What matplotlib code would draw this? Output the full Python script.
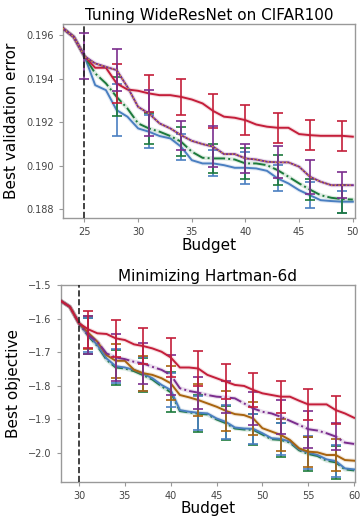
import matplotlib.pyplot as plt

# ---- top panel: WideResNet on CIFAR100 ----
top_x = list(range(23, 51))
top_red = [0.19631, 0.19592, 0.19503, 0.19450, 0.19450, 0.19378, 0.19350, 0.19344, 0.19332, 0.19324,
           0.19324, 0.19316, 0.19304, 0.19286, 0.19251, 0.19225, 0.19220, 0.19209, 0.19189, 0.19179,
           0.19174, 0.19174, 0.19145, 0.19140, 0.19137, 0.19137, 0.19137, 0.19133]
top_purple = [0.19631, 0.19592, 0.19503, 0.19470, 0.19454, 0.19439, 0.19362, 0.19270, 0.19240, 0.19194,
              0.19171, 0.19140, 0.19114, 0.19099, 0.19087, 0.19053, 0.19053, 0.19033, 0.19028, 0.19018,
              0.19015, 0.19015, 0.18995, 0.18949, 0.18926, 0.18910, 0.18910, 0.18910]
top_green = [0.19631, 0.19592, 0.19503, 0.19424, 0.19378, 0.19316, 0.19263, 0.19194, 0.19171, 0.19156,
             0.19136, 0.19110, 0.19064, 0.19036, 0.19033, 0.19033, 0.19028, 0.19010, 0.19010, 0.19002,
             0.18979, 0.18949, 0.18918, 0.18890, 0.18864, 0.18852, 0.18846, 0.18844]
top_blue = [0.19631, 0.19592, 0.19503, 0.19370, 0.19347, 0.19255, 0.19225, 0.19171, 0.19156, 0.19136,
            0.19125, 0.19087, 0.19025, 0.19010, 0.19010, 0.19002, 0.18990, 0.18990, 0.18987, 0.18976,
            0.18941, 0.18918, 0.18887, 0.18864, 0.18841, 0.18837, 0.18834, 0.18834]
top_err_x = [28, 31, 34, 37, 40, 43, 46, 49]
top_red_err = [0.0009, 0.00085, 0.00082, 0.0008, 0.0007, 0.0007, 0.0007, 0.0007]
top_purple_err = [0.00096, 0.00106, 0.00067, 0.00095, 0.00065, 0.00074, 0.00079, 0.0006]
top_green_err = [0.0009, 0.0007, 0.00068, 0.00067, 0.0007, 0.0007, 0.0005, 0.00064]
top_blue_err = [0.0012, 0.00075, 0.0006, 0.0006, 0.00073, 0.0006, 0.0006, 0.0005]
top_start_err = 0.00105

# ---- bottom panel: Hartman-6d ----
bot_x = list(range(28, 61))
bot_red = [-1.547, -1.565, -1.614, -1.632, -1.644, -1.646, -1.659, -1.664, -1.677, -1.682, -1.689,
           -1.699, -1.716, -1.746, -1.746, -1.749, -1.768, -1.778, -1.788, -1.798, -1.801, -1.813,
           -1.823, -1.828, -1.833, -1.833, -1.845, -1.856, -1.856, -1.856, -1.873, -1.883, -1.896]
bot_purple = [-1.547, -1.565, -1.614, -1.649, -1.669, -1.704, -1.716, -1.721, -1.729, -1.734, -1.744,
              -1.753, -1.768, -1.808, -1.816, -1.821, -1.828, -1.833, -1.835, -1.838, -1.853, -1.868,
              -1.878, -1.883, -1.893, -1.905, -1.917, -1.930, -1.934, -1.942, -1.952, -1.970, -1.974]
bot_brown = [-1.547, -1.565, -1.614, -1.642, -1.669, -1.709, -1.726, -1.726, -1.753, -1.763, -1.768,
             -1.778, -1.793, -1.828, -1.835, -1.843, -1.853, -1.863, -1.875, -1.885, -1.888, -1.898,
             -1.927, -1.937, -1.947, -1.962, -1.987, -1.997, -1.999, -2.007, -2.007, -2.022, -2.024]
bot_green = [-1.547, -1.565, -1.614, -1.652, -1.682, -1.723, -1.746, -1.749, -1.757, -1.769, -1.782,
             -1.802, -1.820, -1.876, -1.880, -1.884, -1.886, -1.901, -1.912, -1.928, -1.931, -1.932,
             -1.946, -1.960, -1.962, -1.970, -1.993, -2.004, -2.010, -2.024, -2.029, -2.050, -2.053]
bot_blue = [-1.547, -1.565, -1.614, -1.649, -1.679, -1.719, -1.742, -1.746, -1.753, -1.765, -1.778,
            -1.798, -1.813, -1.873, -1.878, -1.881, -1.883, -1.898, -1.908, -1.925, -1.928, -1.929,
            -1.942, -1.957, -1.959, -1.967, -1.990, -2.000, -2.007, -2.020, -2.025, -2.047, -2.050]
bot_err_x = [31, 34, 37, 40, 43, 46, 49, 52, 55, 58]
bot_red_err = [0.055, 0.055, 0.053, 0.057, 0.052, 0.052, 0.05, 0.048, 0.046, 0.043]
bot_purple_err = [0.058, 0.07, 0.06, 0.06, 0.048, 0.048, 0.049, 0.05, 0.055, 0.04]
bot_brown_err = [0.05, 0.05, 0.052, 0.05, 0.047, 0.06, 0.05, 0.048, 0.045, 0.047]
bot_green_err = [0.055, 0.052, 0.05, 0.06, 0.055, 0.05, 0.046, 0.05, 0.05, 0.05]
bot_blue_err = [0.05, 0.05, 0.05, 0.052, 0.05, 0.05, 0.045, 0.048, 0.05, 0.048]

RED = '#c41e3a'
PURPLE = '#7b2d8e'
GREEN = '#1c7a3c'
BLUE = '#4a7fc1'
BROWN = '#a8640f'
ORANGE = '#d9a032'


def series(ax, x, y, ex, err, color, ls='-', z=2):
    ax.plot(x, y, color=color, lw=3.0, alpha=0.15, zorder=z, solid_capstyle='round')
    ax.plot(x, y, color=color, lw=1.4, ls=ls, zorder=z + 0.1)
    ey = [y[x.index(v)] for v in ex]
    ax.errorbar(ex, ey, yerr=err, fmt='none', ecolor=color, elinewidth=1.2,
                capsize=3.5, capthick=1.2, zorder=z + 0.05)


def style(ax):
    for s in ax.spines.values():
        s.set_color('#999999')
        s.set_linewidth(1.0)
    ax.tick_params(labelsize=7, colors='#444444', length=3, width=0.8)
    ax.tick_params(axis='both', color='#999999')


fig = plt.figure(figsize=(3.6, 5.17), dpi=100)

ax1 = fig.add_axes([0.175, 0.5783, 0.811, 0.3752])
series(ax1, top_x, top_blue, top_err_x, top_blue_err, BLUE, z=2)
series(ax1, top_x, top_green, top_err_x, top_green_err, GREEN, ls='-.', z=3)
series(ax1, top_x, top_red, top_err_x, top_red_err, RED, z=4)
series(ax1, top_x, top_purple, top_err_x, top_purple_err, PURPLE, z=5)
ax1.plot(top_x, top_purple, color=ORANGE, lw=1.0, ls=':', zorder=6)
ax1.errorbar([25], [top_purple[2]], yerr=top_start_err, fmt='none', ecolor=PURPLE,
             elinewidth=1.2, capsize=3.5, capthick=1.2, zorder=6)
ax1.axvline(25, color='#222222', ls='--', lw=1.2, zorder=7)
ax1.set_xlim(23, 50.2)
ax1.set_ylim(0.18759, 0.19651)
ax1.set_xticks([25, 30, 35, 40, 45, 50])
ax1.set_yticks([0.188, 0.190, 0.192, 0.194, 0.196])
ax1.set_title('Tuning WideResNet on CIFAR100', fontsize=11, pad=3)
ax1.set_xlabel('Budget', fontsize=11, labelpad=1)
ax1.set_ylabel('Best validation error', fontsize=11, labelpad=5)
style(ax1)

ax2 = fig.add_axes([0.1686, 0.0677, 0.8175, 0.381])
series(ax2, bot_x, bot_green, bot_err_x, bot_green_err, GREEN, ls='-.', z=2)
series(ax2, bot_x, bot_blue, bot_err_x, bot_blue_err, BLUE, z=3)
series(ax2, bot_x, bot_brown, bot_err_x, bot_brown_err, BROWN, z=4)
series(ax2, bot_x, bot_purple, bot_err_x, bot_purple_err, PURPLE, ls='-.', z=5)
series(ax2, bot_x, bot_red, bot_err_x, bot_red_err, RED, z=6)
ax2.axvline(30, color='#222222', ls='--', lw=1.2, zorder=7)
ax2.set_xlim(28, 60.1)
ax2.set_ylim(-2.0875, -1.5)
ax2.set_xticks([30, 35, 40, 45, 50, 55, 60])
ax2.set_yticks([-2.0, -1.9, -1.8, -1.7, -1.6, -1.5])
ax2.set_title('Minimizing Hartman-6d', fontsize=11, pad=3)
ax2.set_xlabel('Budget', fontsize=11, labelpad=0)
ax2.set_ylabel('Best objective', fontsize=11, labelpad=5)
style(ax2)

fig.savefig('out.png', dpi=100)
